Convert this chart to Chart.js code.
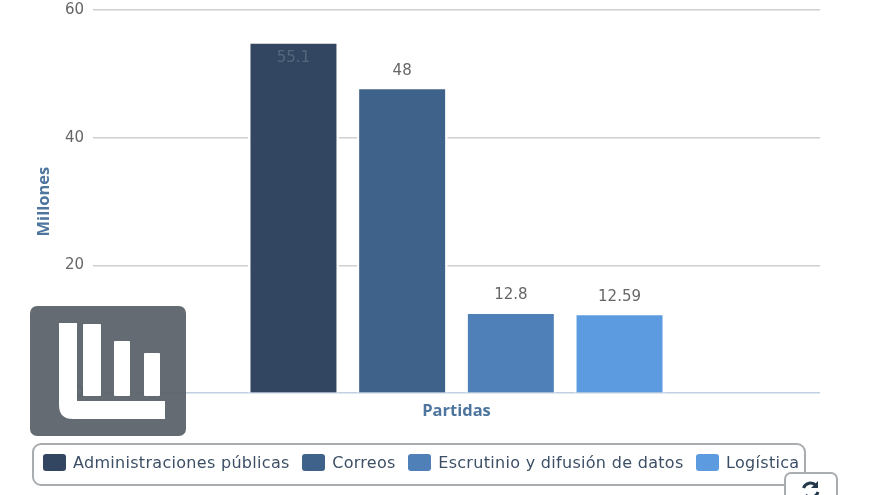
<!DOCTYPE html>
<html>
<head>
<meta charset="utf-8">
<title>Partidas</title>
<script src="https://cdn.jsdelivr.net/npm/chart.js"></script>
<style>
    html, body { margin: 0; padding: 0; background: #fff; overflow: hidden; }
    #wrap { position: relative; width: 880px; height: 495px; overflow: hidden; }
    #legend {
        position: absolute; left: 32px; top: 443px; width: 774px; height: 43px;
        box-sizing: border-box; border: 2px solid #a9adb0; border-radius: 9px;
        display: flex; align-items: center; padding: 0 0 5px 9px;
        font: 16px "DejaVu Sans", sans-serif; letter-spacing: 0.3px; color: #3c4f66;
    }
    #legend .item { display: flex; align-items: center; margin-right: 12.5px; white-space: nowrap; }
    #legend .box { width: 23px; height: 17px; border-radius: 3px; margin-right: 7px; }
    #icon { position: absolute; left: 30px; top: 306px; }
    #reload { position: absolute; left: 784px; top: 472px; }
</style>
</head>
<body>
<div id="wrap">
    <canvas id="chart" width="880" height="495"></canvas>
    <div id="legend"></div>
    <svg id="icon" width="156" height="130" viewBox="0 0 156 130">
        <rect width="156" height="130" rx="7" fill="#5b6269" fill-opacity="0.94"/>
        <path d="M29 17H47V95H135V113H43Q29 113 29 99Z" fill="#fff"/>
        <rect x="53" y="18" width="18" height="72" rx="1" fill="#fff"/>
        <rect x="84" y="35" width="16" height="55" rx="1" fill="#fff"/>
        <rect x="114" y="47" width="16" height="43" rx="1" fill="#fff"/>
    </svg>
    <svg id="reload" width="54" height="23" viewBox="0 0 54 23">
        <rect x="1" y="1" width="52" height="40" rx="6" fill="#fff" stroke="#a9adb0" stroke-width="2"/>
        <path d="M19.5 16A7.5 7.5 0 0 1 32 13.5M34 20A7.5 7.5 0 0 1 21.5 23" fill="none" stroke="#24384c" stroke-width="3"/>
        <path d="M34 9V16H27Z" fill="#24384c"/>
    </svg>
</div>
<script>
    var categories = ['Partidas'];
    var seriesNames = ['Administraciones públicas', 'Correos', 'Escrutinio y difusión de datos', 'Logística'];
    var seriesValues = [55.1, 48, 12.8, 12.59];
    var seriesColors = ['#324661', '#3f628a', '#4f80b8', '#5c9bdf'];
    var yTicks = [0, 20, 40, 60];

    var datasets = [];
    for (var i = 0; i < seriesNames.length; i++) {
        datasets.push({
            label: seriesNames[i],
            data: [seriesValues[i]],
            backgroundColor: seriesColors[i],
            borderColor: '#fff',
            borderWidth: 2.5
        });
    }

    // valores encima de cada barra (el más alto va dentro)
    var barLabels = {
        id: 'barLabels',
        afterDatasetsDraw: function (chart) {
            var ctx = chart.ctx;
            ctx.save();
            ctx.font = '15px "DejaVu Sans", sans-serif';
            ctx.textAlign = 'center';
            ctx.textBaseline = 'middle';
            chart.data.datasets.forEach(function (ds, idx) {
                var bar = chart.getDatasetMeta(idx).data[0];
                var inside = ds.data[0] > 50;
                ctx.fillStyle = inside ? '#56677d' : '#666';
                ctx.fillText(String(ds.data[0]), bar.x, inside ? bar.y + 17 : bar.y - 16);
            });
            ctx.restore();
        }
    };

    new Chart(document.getElementById('chart').getContext('2d'), {
        type: 'bar',
        data: { labels: categories, datasets: datasets },
        plugins: [barLabels],
        options: {
            responsive: false,
            animation: false,
            categoryPercentage: 0.598,
            barPercentage: 0.837,
            layout: { padding: { left: 34, right: 60, top: 10, bottom: 74 } },
            plugins: { legend: { display: false }, tooltip: { enabled: false } },
            scales: {
                x: {
                    grid: { display: false },
                    border: { display: false },
                    ticks: { display: false },
                    title: {
                        display: true,
                        text: 'Partidas',
                        color: '#4d759e',
                        font: { family: '"Open Sans", sans-serif', size: 16.5, weight: 'bold' },
                        padding: { top: 0, bottom: 0 }
                    }
                },
                y: {
                    min: 0,
                    max: 60,
                    afterFit: function (scale) {
                        scale.width = 59;
                        scale.paddingTop = 0;
                    },
                    afterBuildTicks: function (scale) {
                        scale.ticks = yTicks.map(function (v) { return { value: v }; });
                    },
                    border: { display: false },
                    grid: {
                        drawTicks: false,
                        lineWidth: 1.5,
                        color: function (c) { return c.tick.value === 0 ? '#c0d0e0' : '#cfcfcf'; }
                    },
                    ticks: {
                        padding: 9,
                        color: '#666',
                        font: { family: '"DejaVu Sans", sans-serif', size: 15 }
                    },
                    title: {
                        display: true,
                        text: 'Millones',
                        color: '#4d759e',
                        font: { family: '"Open Sans", sans-serif', size: 16.5, weight: 'bold' },
                        padding: { top: 0, bottom: 0 }
                    }
                }
            }
        }
    });

    // leyenda
    var legend = document.getElementById('legend');
    seriesNames.forEach(function (name, i) {
        var item = document.createElement('div');
        item.className = 'item';
        var box = document.createElement('span');
        box.className = 'box';
        box.style.background = seriesColors[i];
        item.appendChild(box);
        item.appendChild(document.createTextNode(name));
        legend.appendChild(item);
    });
</script>
</body>
</html>
